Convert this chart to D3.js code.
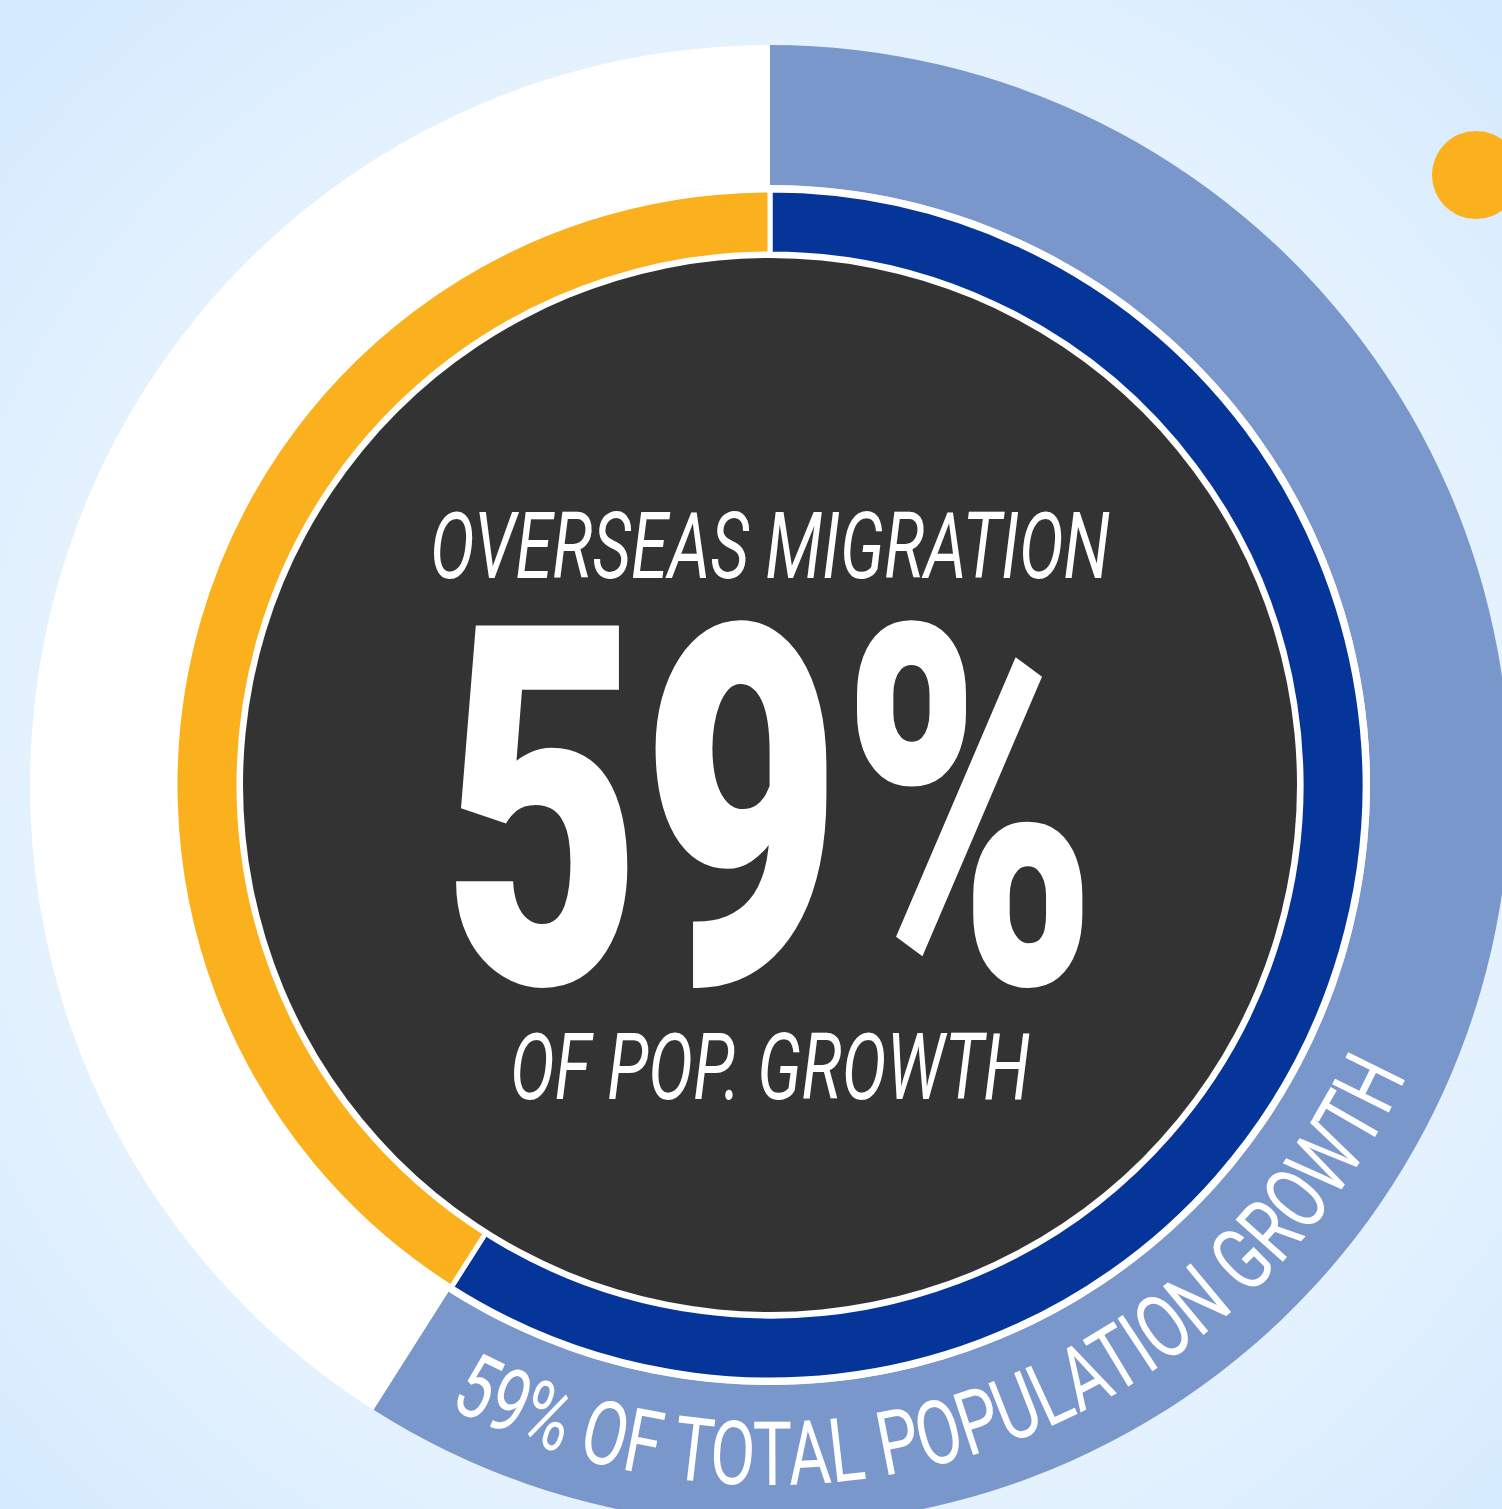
<!DOCTYPE html>
<html>
<head>
<meta charset="utf-8">
<script src="https://cdn.jsdelivr.net/npm/d3@7"></script>
<style>
  html, body { margin: 0; padding: 0; }
  svg { display: block; }
</style>
</head>
<body>
<div id="chart"></div>
<script>
// share of total population growth
const segments = ["Overseas migration", "Other growth"];
const shares = [59, 41];
const outerColors = ["#7a97cb", "#ffffff"];
const innerColors = ["#063599", "#fbb01e"];
const headline = "OVERSEAS MIGRATION";
const bigLabel = "59%";
const subLabel = "OF POP. GROWTH";
const ringLabel = "59% OF TOTAL POPULATION GROWTH";

const width = 1502, height = 1509;
const cx = 770, cy = 785;

const svg = d3.select("#chart").append("svg")
    .attr("width", width)
    .attr("height", height);

// background
const defs = svg.append("defs");
const bg = defs.append("radialGradient")
    .attr("id", "bg")
    .attr("gradientUnits", "userSpaceOnUse")
    .attr("cx", cx).attr("cy", cy).attr("r", 1050);
bg.append("stop").attr("offset", "0%").attr("stop-color", "#eef8ff");
bg.append("stop").attr("offset", "70%").attr("stop-color", "#e4f2fe");
bg.append("stop").attr("offset", "100%").attr("stop-color", "#d5eafe");

svg.append("rect")
    .attr("width", width).attr("height", height)
    .attr("fill", "url(#bg)");

// little orange dot top right
svg.append("circle")
    .attr("cx", 1476).attr("cy", 175).attr("r", 44)
    .attr("fill", "#fbb01e");

const g = svg.append("g")
    .attr("transform", "translate(" + cx + "," + cy + ")");

const pie = d3.pie().sort(null).value(d => d);
const arcs = pie(shares);

// outer ring
const outerArc = d3.arc().innerRadius(600).outerRadius(740);
g.selectAll("path.outer")
  .data(arcs)
  .enter().append("path")
    .attr("class", "outer")
    .attr("d", outerArc)
    .attr("fill", (d, i) => outerColors[i]);

// white backing between the rings
g.append("circle").attr("r", 600).attr("fill", "#fff");

// inner ring
const innerArc = d3.arc().innerRadius(531).outerRadius(595);
g.selectAll("path.inner")
  .data(arcs)
  .enter().append("path")
    .attr("class", "inner")
    .attr("d", innerArc)
    .attr("fill", (d, i) => innerColors[i])
    .attr("stroke", "#fff")
    .attr("stroke-width", 5);

// dark centre
g.append("circle").attr("r", 527).attr("fill", "#333333");

// centre texts
function centreText(txt, y, size, len, weight, italic) {
  g.append("text")
      .attr("x", 0).attr("y", y)
      .attr("text-anchor", "middle")
      .attr("font-family", "Roboto, 'DejaVu Sans', sans-serif")
      .attr("font-size", size)
      .attr("font-weight", weight)
      .attr("font-style", italic ? "italic" : "normal")
      .attr("fill", "#fff")
      .attr("textLength", len)
      .attr("lengthAdjust", "spacingAndGlyphs")
      .text(txt);
}
centreText(headline, 578 - cy, 93, 680, 400, true);
centreText(bigLabel, 983 - cy, 503, 655, 900, false);
centreText(subLabel, 1099 - cy, 93, 520, 400, true);

// curved label along the outer ring
const labelR = 700;
const a0 = arcs[0].endAngle - 5 * Math.PI / 180;
const a1 = 114.5 * Math.PI / 180;
const p = d3.path();
p.arc(0, 0, labelR, a0 - Math.PI / 2, a1 - Math.PI / 2, true);
g.append("path").attr("id", "ringPathG").attr("d", p.toString()).attr("fill", "none");

g.append("text")
    .attr("font-family", "Roboto, 'DejaVu Sans', sans-serif")
    .attr("font-size", 89)
    .attr("fill", "#fff")
  .append("textPath")
    .attr("href", "#ringPathG")
    .attr("textLength", labelR * (a0 - a1))
    .attr("lengthAdjust", "spacingAndGlyphs")
    .text(ringLabel);
</script>
</body>
</html>
